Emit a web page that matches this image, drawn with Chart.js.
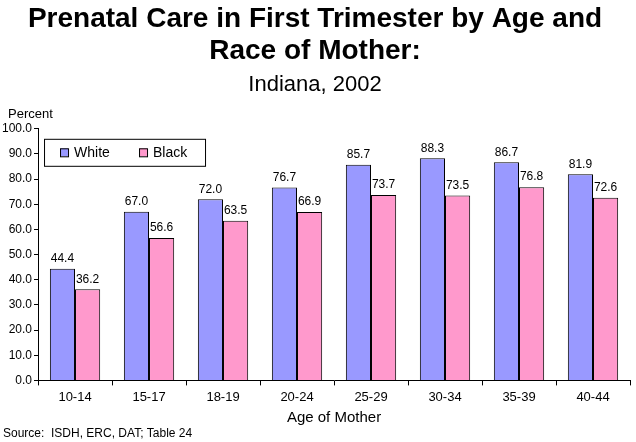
<!DOCTYPE html>
<html>
<head>
<meta charset="utf-8">
<script src="https://cdn.jsdelivr.net/npm/chart.js@4"></script>
<style>
  html, body { margin: 0; padding: 0; background: #fff; }
  #wrap { width: 636px; height: 442px; }
</style>
</head>
<body>
<div id="wrap"><canvas id="myChart"></canvas></div>
<script>
var ageGroups = ["10-14", "15-17", "18-19", "20-24", "25-29", "30-34", "35-39", "40-44"];
var whiteValues = [44.4, 67.0, 72.0, 76.7, 85.7, 88.3, 86.7, 81.9];
var blackValues = [36.2, 56.6, 63.5, 66.9, 73.7, 73.5, 76.8, 72.6];
var seriesNames = ["White", "Black"];
var yTicks = [0, 10, 20, 30, 40, 50, 60, 70, 80, 90, 100];

var FONT = "'Liberation Sans', Arial, sans-serif";

// bar value labels, legend box and the loose texts
var extras = {
  id: "extras",
  afterDatasetsDraw: function (chart) {
    var ctx = chart.ctx;
    ctx.save();
    ctx.fillStyle = "#000";
    ctx.font = "12px " + FONT;
    ctx.textAlign = "center";
    ctx.textBaseline = "bottom";
    chart.data.datasets.forEach(function (ds, i) {
      chart.getDatasetMeta(i).data.forEach(function (bar, j) {
        ctx.fillText(ds.data[j].toFixed(1), bar.x, bar.y - 4);
      });
    });

    // legend inside the plot
    var area = chart.chartArea;
    var lx = area.left + 6, ly = area.top + 10, lw = 161, lh = 27;
    ctx.fillStyle = "#fff";
    ctx.fillRect(lx, ly, lw, lh);
    ctx.strokeStyle = "#000";
    ctx.lineWidth = 1;
    ctx.strokeRect(lx + 0.5, ly + 0.5, lw, lh);
    ctx.textAlign = "left";
    ctx.textBaseline = "middle";
    ctx.font = "14px " + FONT;
    var offs = [16, 95];
    chart.data.datasets.forEach(function (ds, i) {
      var sx = lx + offs[i], sy = ly + lh / 2 - 4;
      ctx.fillStyle = ds.backgroundColor;
      ctx.fillRect(sx, sy, 8, 8);
      ctx.strokeRect(sx + 0.5, sy + 0.5, 8, 8);
      ctx.fillStyle = "#000";
      ctx.fillText(ds.label, sx + 14, ly + lh / 2 + 1);
    });

    ctx.font = "13px " + FONT;
    ctx.textAlign = "left";
    ctx.textBaseline = "alphabetic";
    ctx.fillText("Percent", 8, 118);
    ctx.font = "12px " + FONT;
    ctx.fillText("Source:  ISDH, ERC, DAT; Table 24", 3, 437);
    ctx.restore();
  }
};

function drawChart() {
  var ctx = document.getElementById("myChart").getContext("2d");
  var myChart = new Chart(ctx, {
    type: "bar",
    data: {
      labels: ageGroups,
      datasets: [
        {
          label: seriesNames[0],
          data: whiteValues,
          backgroundColor: "#9999FF",
          borderColor: "#000",
          borderWidth: 1,
          borderSkipped: "bottom",
        },
        {
          label: seriesNames[1],
          data: blackValues,
          backgroundColor: "#FF99CC",
          borderColor: "#000",
          borderWidth: 1,
          borderSkipped: "bottom",
        },
      ],
    },
    options: {
      responsive: true,
      maintainAspectRatio: false,
      animation: false,
      devicePixelRatio: 1,
      categoryPercentage: 0.68,
      barPercentage: 1.0,
      layout: { padding: { left: 0, right: 6, top: 0, bottom: 15 } },
      plugins: {
        legend: { display: false },
        tooltip: { enabled: false },
        title: {
          display: true,
          text: ["Prenatal Care in First Trimester by Age and", "Race of Mother:"],
          color: "#000",
          font: { family: FONT, size: 28, weight: "bold", lineHeight: 1.15 },
          padding: { top: 3, bottom: 0 },
        },
        subtitle: {
          display: true,
          text: "Indiana, 2002",
          color: "#000",
          font: { family: FONT, size: 22 },
          padding: { top: 4, bottom: 31 },
        },
      },
      scales: {
        x: {
          grid: { display: true, drawOnChartArea: false, offset: true, color: "#000", tickLength: 5 },
          border: { color: "#000", width: 1 },
          ticks: { color: "#000", font: { family: FONT, size: 13 }, padding: 4 },
          title: {
            display: true,
            text: "Age of Mother",
            color: "#000",
            font: { family: FONT, size: 15 },
            padding: { top: 0, bottom: 0 },
          },
        },
        y: {
          min: 0,
          max: 100,
          afterBuildTicks: function (axis) {
            axis.ticks = yTicks.map(function (v) { return { value: v }; });
          },
          grid: { display: true, drawOnChartArea: false, color: "#000", tickLength: 4 },
          border: { color: "#000", width: 1 },
          ticks: {
            color: "#000",
            font: { family: FONT, size: 12 },
            padding: 2,
            callback: function (v) { return Number(v).toFixed(1); },
          },
        },
      },
    },
    plugins: [extras],
  });
  return myChart;
}

drawChart();
</script>
</body>
</html>
